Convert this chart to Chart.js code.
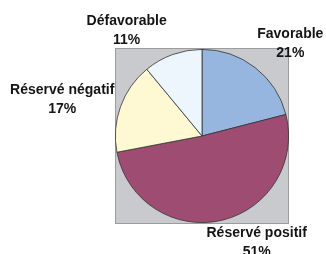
<!DOCTYPE html>
<html>
<head>
<meta charset="utf-8">
<script src="https://cdn.jsdelivr.net/npm/chart.js@4/dist/chart.umd.min.js"></script>
<style>
  html, body { margin: 0; padding: 0; background: #fff; }
  #wrap { width: 326px; height: 254px; position: relative; }
</style>
</head>
<body>
<div id="wrap"><canvas id="pie"></canvas></div>
<script>
// données du graphique
const categories = ['Favorable', 'Réservé positif', 'Réservé négatif', 'Défavorable'];
const values = [21, 51, 17, 11];
const sliceColors = ['#97b6df', '#9e4c72', '#fff9d3', '#edf5fd'];

// fond gris carré derrière le camembert (zone de traçage)
const plotBackground = {
    id: 'plotBackground',
    beforeDraw(chart) {
        const { ctx, chartArea: a } = chart;
        ctx.save();
        ctx.fillStyle = '#c9cacd';
        ctx.fillRect(a.left, a.top, a.right - a.left, a.bottom - a.top);
        ctx.strokeStyle = '#9c9c9c';
        ctx.lineWidth = 1;
        ctx.strokeRect(a.left + 0.5, a.top + 0.5, a.right - a.left - 1, a.bottom - a.top - 1);
        ctx.restore();
    }
};

// étiquettes (nom + pourcentage) placées à l'extérieur des parts,
// avec un petit décalage manuel par étiquette comme dans l'original
const outsideLabels = {
    id: 'outsideLabels',
    afterDraw(chart, args, opts) {
        const { ctx } = chart;
        const meta = chart.getDatasetMeta(0);
        const data = chart.data.datasets[0].data;
        const total = data.reduce((s, v) => s + v, 0);
        const lineH = 19;
        const nudge = opts.nudge || [];
        ctx.save();
        ctx.font = 'bold 14px "Liberation Sans", Arial, sans-serif';
        ctx.fillStyle = '#141414';
        ctx.textAlign = 'center';
        ctx.textBaseline = 'middle';
        meta.data.forEach((arc, i) => {
            const mid = (arc.startAngle + arc.endAngle) / 2;
            const dx = Math.cos(mid), dy = Math.sin(mid);
            const r = arc.outerRadius + 13;
            const lines = [chart.data.labels[i], Math.round(data[i] / total * 100) + '%'];
            const w = Math.max(...lines.map(t => ctx.measureText(t).width));
            const h = lines.length * lineH;
            const [nx, ny] = nudge[i] || [0, 0];
            const cx = arc.x + dx * r + dx * w / 2 + nx;
            const cy = arc.y + dy * r + dy * h / 2 - 2 + ny;
            lines.forEach((t, k) => {
                ctx.fillText(t, cx, cy - h / 2 + lineH / 2 + k * lineH);
            });
        });
        ctx.restore();
    }
};

new Chart(document.getElementById('pie'), {
    type: 'pie',
    data: {
        labels: categories,
        datasets: [{
            data: values,
            backgroundColor: sliceColors,
            borderColor: '#333333',
            borderWidth: 0.8
        }]
    },
    options: {
        responsive: true,
        maintainAspectRatio: false,
        animation: false,
        layout: { padding: { left: 115, right: 37, top: 48, bottom: 30 } },
        plugins: {
            legend: { display: false },
            tooltip: { enabled: false },
            outsideLabels: { nudge: [[7, 3], [22, -7], [3, 6], [-28, 8]] }
        }
    },
    plugins: [plotBackground, outsideLabels]
});
</script>
</body>
</html>
